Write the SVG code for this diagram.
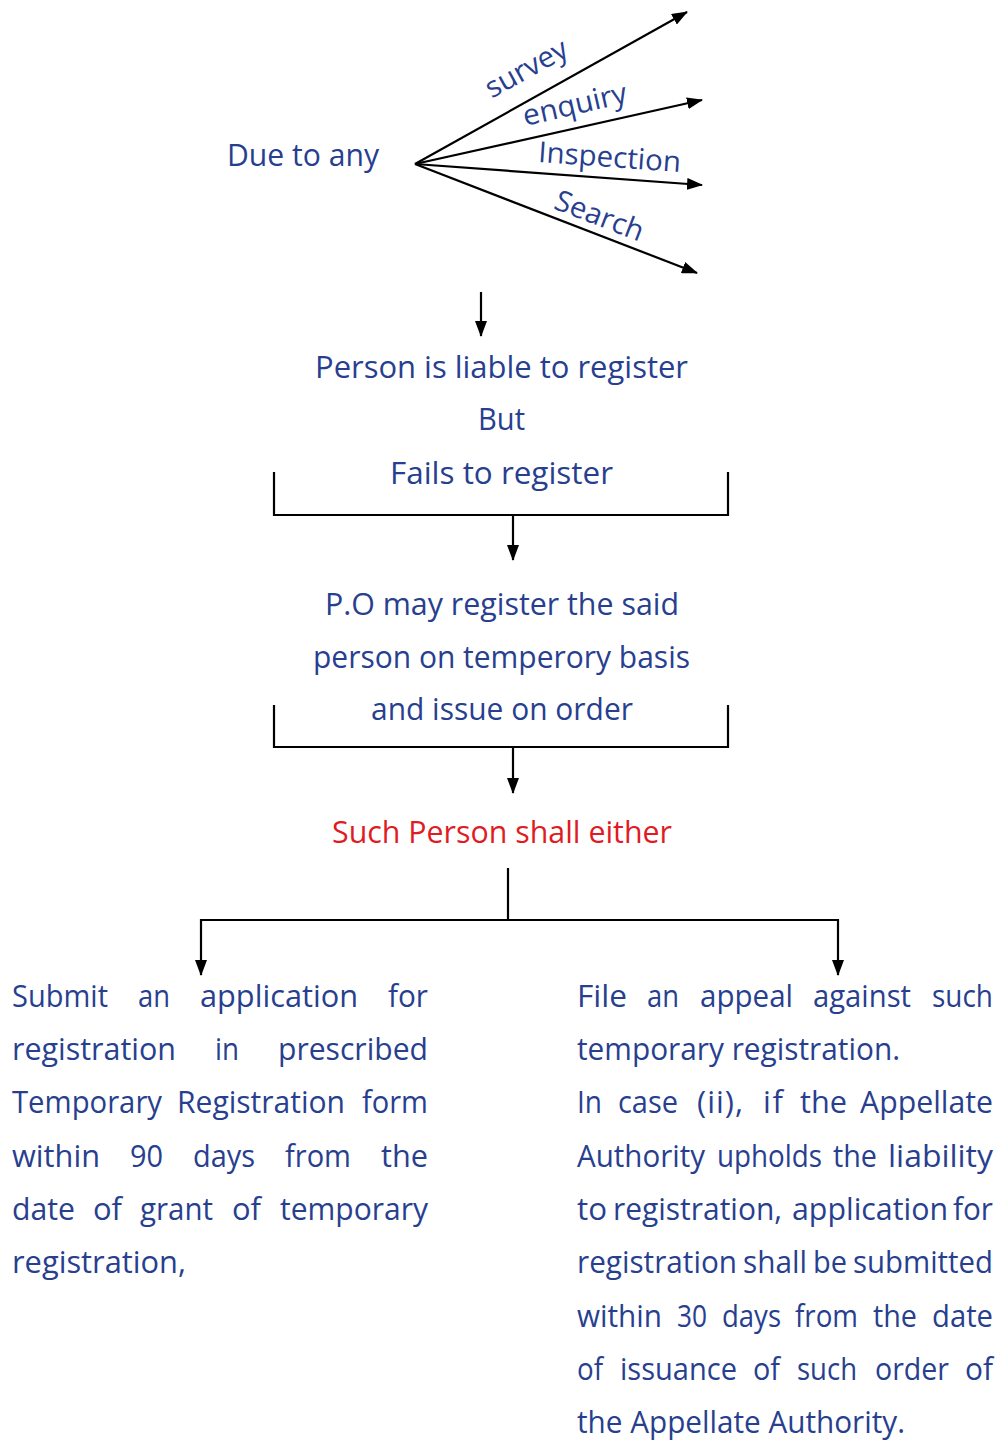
<svg xmlns="http://www.w3.org/2000/svg" width="999" height="1441" viewBox="0 0 999 1441">
<style>
text{font-family:"Open Sans","Noto Sans","DejaVu Sans",sans-serif;font-size:31px;fill:#283f8f}
.red{fill:#e01b24}
.lbl{font-size:29px}
.ln{stroke:#000;stroke-width:2.2;fill:none}
.ar{marker-end:url(#ah)}
</style>
<defs>
<marker id="ah" viewBox="0 0 16 12" refX="15" refY="6" markerWidth="16" markerHeight="12" markerUnits="userSpaceOnUse" orient="auto">
<path d="M0,0 L16,6 L0,12 z" fill="#000"/>
</marker>
</defs>
<g id="connectors">
<line class="ln ar" x1="415" y1="164" x2="687" y2="12"/>
<line class="ln ar" x1="415" y1="164" x2="702" y2="100"/>
<line class="ln ar" x1="415" y1="164" x2="702" y2="185"/>
<line class="ln ar" x1="415" y1="164" x2="697" y2="273"/>
<line class="ln ar" x1="481" y1="292" x2="481" y2="336"/>
<path class="ln" d="M274,472 V515 H728 V472"/>
<line class="ln ar" x1="513" y1="515" x2="513" y2="560"/>
<path class="ln" d="M274,705 V747 H728 V705"/>
<line class="ln ar" x1="513" y1="747" x2="513" y2="793"/>
<path class="ln" d="M508,868 V920"/>
<path class="ln" d="M201,920 H838"/>
<line class="ln ar" x1="201" y1="919" x2="201" y2="975"/>
<line class="ln ar" x1="838" y1="919" x2="838" y2="975"/>
</g>
<g id="source">
<text x="227" y="166" textLength="152" lengthAdjust="spacingAndGlyphs">Due to any</text>
</g>
<g id="labels">
<text class="lbl" text-anchor="middle" transform="translate(531,77) rotate(-29)" textLength="90" lengthAdjust="spacingAndGlyphs">survey</text>
<text class="lbl" text-anchor="middle" transform="translate(577,114) rotate(-13)" textLength="106" lengthAdjust="spacingAndGlyphs">enquiry</text>
<text class="lbl" text-anchor="middle" transform="translate(609,167) rotate(4)" textLength="143" lengthAdjust="spacingAndGlyphs">Inspection</text>
<text class="lbl" text-anchor="middle" transform="translate(596,225) rotate(21)" textLength="93" lengthAdjust="spacingAndGlyphs">Search</text>
</g>
<g id="liable">
<text x="315" y="378" textLength="373" lengthAdjust="spacingAndGlyphs">Person is liable to register</text>
<text x="478" y="430" textLength="47" lengthAdjust="spacingAndGlyphs">But</text>
<text x="390" y="484" textLength="223" lengthAdjust="spacingAndGlyphs">Fails to register</text>
</g>
<g id="po">
<text x="325" y="615" textLength="354" lengthAdjust="spacingAndGlyphs">P.O may register the said</text>
<text x="313" y="668" textLength="377" lengthAdjust="spacingAndGlyphs">person on temperory basis</text>
<text x="371" y="720" textLength="262" lengthAdjust="spacingAndGlyphs">and issue on order</text>
</g>
<g id="either">
<text class="red" x="332" y="843" textLength="340" lengthAdjust="spacingAndGlyphs">Such Person shall either</text>
</g>
<g id="submit">
<text y="1007"><tspan x="12" textLength="96" lengthAdjust="spacingAndGlyphs">Submit</tspan><tspan x="138" textLength="32" lengthAdjust="spacingAndGlyphs">an</tspan><tspan x="200" textLength="158" lengthAdjust="spacingAndGlyphs">application</tspan><tspan x="388" textLength="40" lengthAdjust="spacingAndGlyphs">for</tspan></text>
<text y="1060"><tspan x="12" textLength="164" lengthAdjust="spacingAndGlyphs">registration</tspan><tspan x="215" textLength="24" lengthAdjust="spacingAndGlyphs">in</tspan><tspan x="278" textLength="150" lengthAdjust="spacingAndGlyphs">prescribed</tspan></text>
<text y="1113"><tspan x="12" textLength="150" lengthAdjust="spacingAndGlyphs">Temporary</tspan><tspan x="177" textLength="168" lengthAdjust="spacingAndGlyphs">Registration</tspan><tspan x="362" textLength="66" lengthAdjust="spacingAndGlyphs">form</tspan></text>
<text y="1167"><tspan x="12" textLength="88" lengthAdjust="spacingAndGlyphs">within</tspan><tspan x="130" textLength="33" lengthAdjust="spacingAndGlyphs">90</tspan><tspan x="193" textLength="62" lengthAdjust="spacingAndGlyphs">days</tspan><tspan x="285" textLength="66" lengthAdjust="spacingAndGlyphs">from</tspan><tspan x="381" textLength="47" lengthAdjust="spacingAndGlyphs">the</tspan></text>
<text y="1220"><tspan x="12" textLength="63" lengthAdjust="spacingAndGlyphs">date</tspan><tspan x="93" textLength="29" lengthAdjust="spacingAndGlyphs">of</tspan><tspan x="140" textLength="73" lengthAdjust="spacingAndGlyphs">grant</tspan><tspan x="232" textLength="29" lengthAdjust="spacingAndGlyphs">of</tspan><tspan x="280" textLength="148" lengthAdjust="spacingAndGlyphs">temporary</tspan></text>
<text x="12" y="1273" textLength="174" lengthAdjust="spacingAndGlyphs">registration,</text>
</g>
<g id="appeal">
<text y="1007"><tspan x="577" textLength="50" lengthAdjust="spacingAndGlyphs">File</tspan><tspan x="647" textLength="32" lengthAdjust="spacingAndGlyphs">an</tspan><tspan x="700" textLength="93" lengthAdjust="spacingAndGlyphs">appeal</tspan><tspan x="813" textLength="98" lengthAdjust="spacingAndGlyphs">against</tspan><tspan x="932" textLength="61" lengthAdjust="spacingAndGlyphs">such</tspan></text>
<text x="577" y="1060" textLength="323" lengthAdjust="spacingAndGlyphs">temporary registration.</text>
<text y="1113"><tspan x="577" textLength="25" lengthAdjust="spacingAndGlyphs">In</tspan><tspan x="618" textLength="60" lengthAdjust="spacingAndGlyphs">case</tspan><tspan x="697" textLength="46" lengthAdjust="spacing">(ii),</tspan><tspan x="763" textLength="20" lengthAdjust="spacing">if</tspan><tspan x="800" textLength="47" lengthAdjust="spacingAndGlyphs">the</tspan><tspan x="860" textLength="133" lengthAdjust="spacingAndGlyphs">Appellate</tspan></text>
<text y="1167"><tspan x="577" textLength="128" lengthAdjust="spacingAndGlyphs">Authority</tspan><tspan x="717" textLength="105" lengthAdjust="spacingAndGlyphs">upholds</tspan><tspan x="833" textLength="44" lengthAdjust="spacingAndGlyphs">the</tspan><tspan x="888" textLength="105" lengthAdjust="spacingAndGlyphs">liability</tspan></text>
<text y="1220"><tspan x="577" textLength="30" lengthAdjust="spacingAndGlyphs">to</tspan><tspan x="613" textLength="169" lengthAdjust="spacingAndGlyphs">registration,</tspan><tspan x="792" textLength="156" lengthAdjust="spacingAndGlyphs">application</tspan><tspan x="953" textLength="40" lengthAdjust="spacingAndGlyphs">for</tspan></text>
<text y="1273"><tspan x="577" textLength="160" lengthAdjust="spacingAndGlyphs">registration</tspan><tspan x="743" textLength="64" lengthAdjust="spacingAndGlyphs">shall</tspan><tspan x="813" textLength="34" lengthAdjust="spacingAndGlyphs">be</tspan><tspan x="853" textLength="140" lengthAdjust="spacingAndGlyphs">submitted</tspan></text>
<text y="1327"><tspan x="577" textLength="85" lengthAdjust="spacingAndGlyphs">within</tspan><tspan x="677" textLength="30" lengthAdjust="spacingAndGlyphs">30</tspan><tspan x="722" textLength="59" lengthAdjust="spacingAndGlyphs">days</tspan><tspan x="795" textLength="63" lengthAdjust="spacingAndGlyphs">from</tspan><tspan x="873" textLength="44" lengthAdjust="spacingAndGlyphs">the</tspan><tspan x="932" textLength="61" lengthAdjust="spacingAndGlyphs">date</tspan></text>
<text y="1380"><tspan x="577" textLength="26" lengthAdjust="spacingAndGlyphs">of</tspan><tspan x="620" textLength="117" lengthAdjust="spacingAndGlyphs">issuance</tspan><tspan x="753" textLength="27" lengthAdjust="spacingAndGlyphs">of</tspan><tspan x="797" textLength="60" lengthAdjust="spacingAndGlyphs">such</tspan><tspan x="875" textLength="74" lengthAdjust="spacingAndGlyphs">order</tspan><tspan x="965" textLength="28" lengthAdjust="spacingAndGlyphs">of</tspan></text>
<text x="577" y="1433" textLength="328" lengthAdjust="spacingAndGlyphs">the Appellate Authority.</text>
</g>
</svg>
